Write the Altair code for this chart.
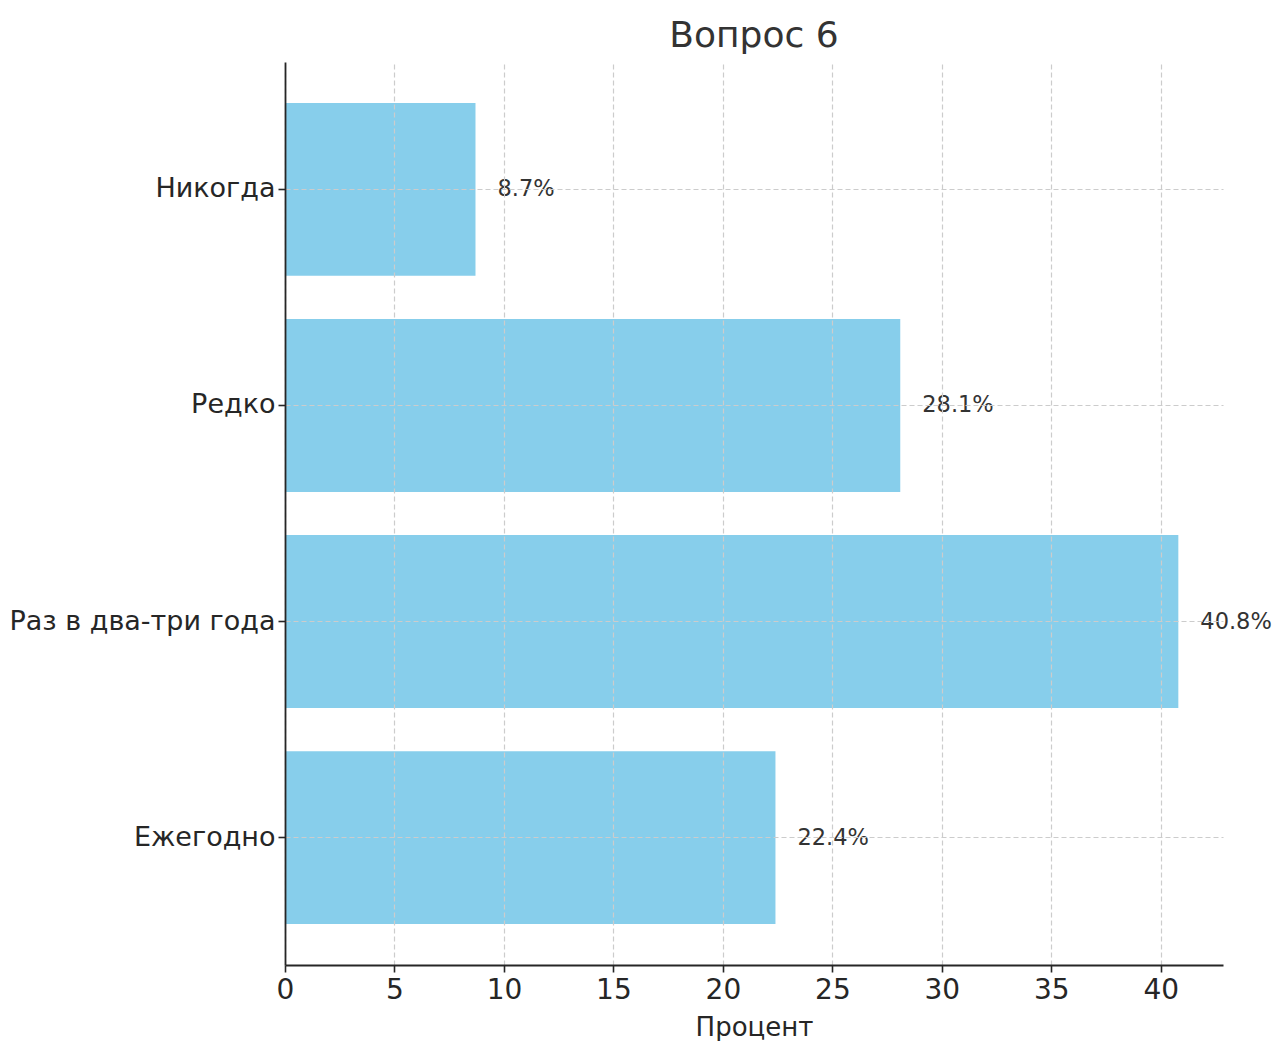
import altair as alt
import pandas as pd

categories = ["Никогда", "Редко", "Раз в два-три года", "Ежегодно"]
values = [8.7, 28.1, 40.8, 22.4]
labels = ["8.7%", "28.1%", "40.8%", "22.4%"]
x_ticks = [0, 5, 10, 15, 20, 25, 30, 35, 40]

df = pd.DataFrame({"cat": categories, "val": values, "lab": labels})

FONT = "DejaVu Sans"

x_enc = alt.X(
    "val:Q",
    title="Процент",
    scale=alt.Scale(domain=[0, max(values) * 1.05], nice=False, zero=True),
    axis=alt.Axis(
        values=x_ticks,
        grid=True,
        gridDash=[5, 3],
        gridColor="#cccccc",
        gridWidth=1.2,
        domainColor="#262626",
        domainWidth=1.8,
        tickColor="#262626",
        tickWidth=1.6,
        tickSize=7,
        labelFont=FONT,
        labelFontSize=28,
        labelColor="#262626",
        labelPadding=4,
        titleFont=FONT,
        titleFontSize=26,
        titleFontWeight="normal",
        titleColor="#262626",
        titlePadding=10,
        labelFlush=False,
        zindex=1,
    ),
)

y_enc = alt.Y(
    "cat:N",
    title=None,
    sort=categories,
    scale=alt.Scale(paddingInner=0.2, paddingOuter=0.19),
    axis=alt.Axis(
        grid=True,
        gridDash=[5, 3],
        gridColor="#cccccc",
        gridWidth=1.2,
        domainColor="#262626",
        domainWidth=1.8,
        tickColor="#262626",
        tickWidth=1.6,
        tickSize=7,
        labelFont=FONT,
        labelFontSize=27,
        labelColor="#262626",
        labelPadding=3,
        labelLimit=0,
        zindex=1,
    ),
)

bars = alt.Chart(df).mark_bar(color="#87CEEB").encode(x=x_enc, y=y_enc)

text = alt.Chart(df).mark_text(
    align="left",
    baseline="middle",
    dx=22,
    font=FONT,
    fontSize=22.5,
    color="#333333",
).encode(
    x=alt.X("val:Q"),
    y=alt.Y("cat:N", sort=categories),
    text="lab:N",
)

chart = (
    alt.layer(bars, text)
    .properties(
        width=938,
        height=903,
        background="white",
        title=alt.TitleParams(
            "Вопрос 6",
            font=FONT,
            fontSize=36,
            fontWeight="normal",
            color="#333333",
            anchor="middle",
            offset=7,
        ),
        autosize=alt.AutoSizeParams(type="none"),
        padding={"left": 277, "top": 54, "right": 49, "bottom": 78},
    )
    .configure_view(strokeWidth=0, stroke="transparent")
)

chart.save("out.html", embed_options={"renderer": "svg", "actions": False})
